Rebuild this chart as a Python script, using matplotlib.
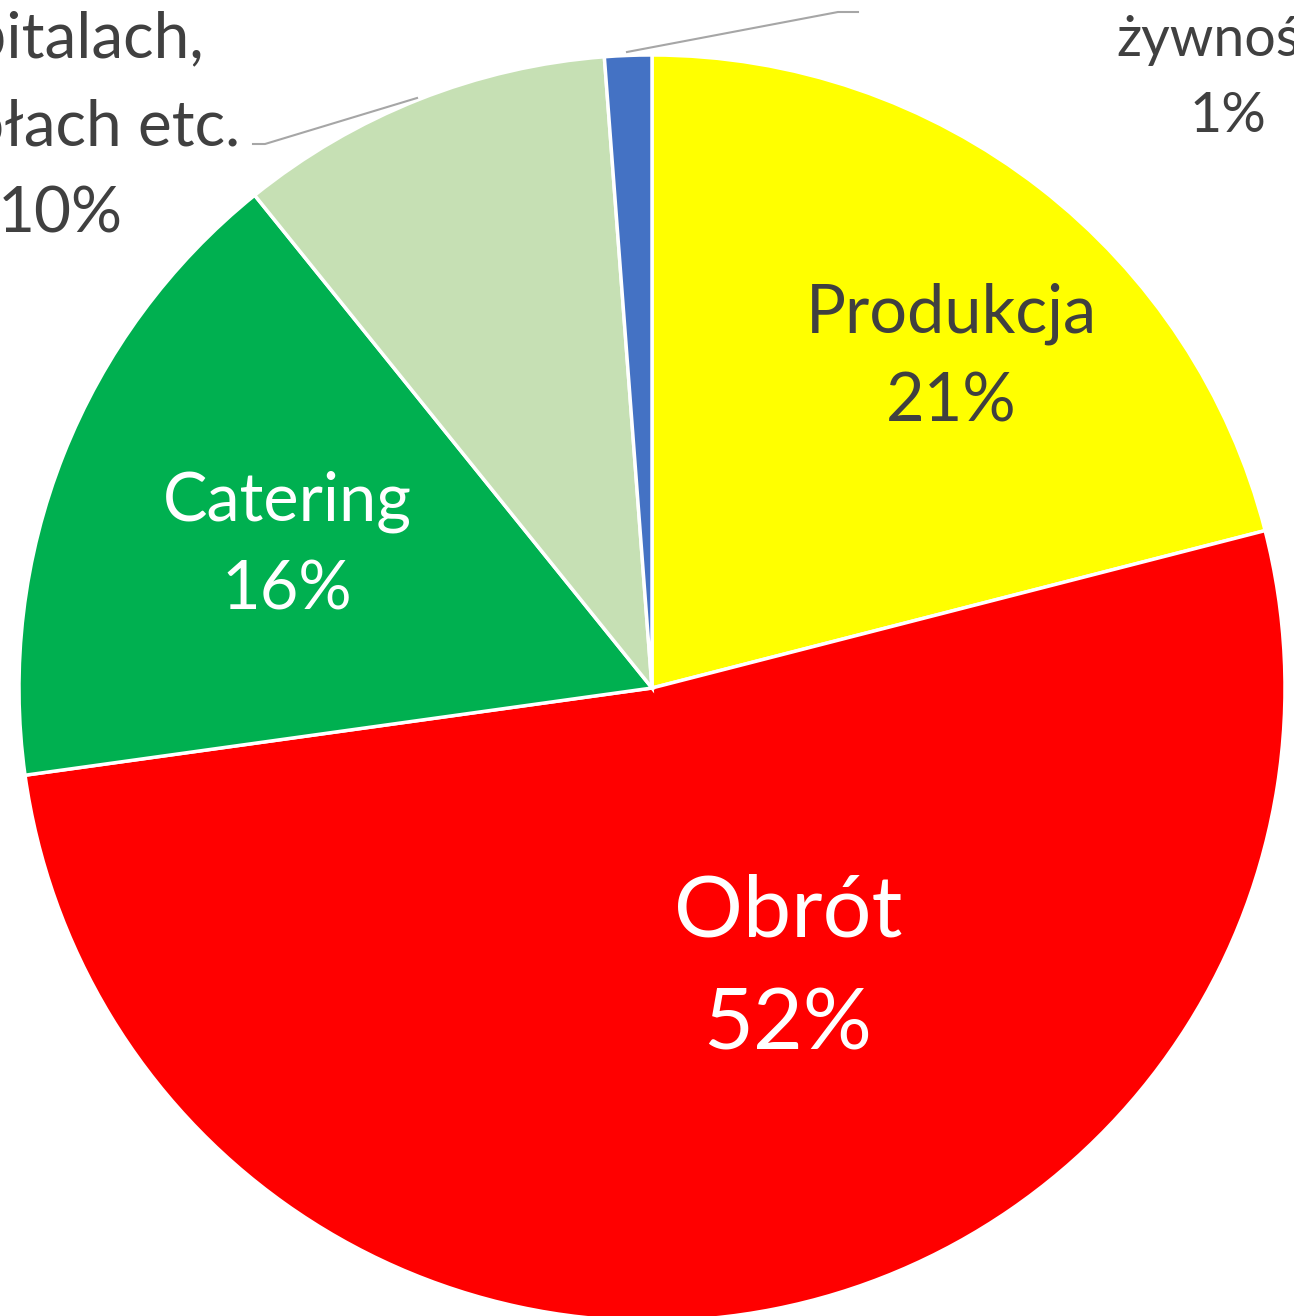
import matplotlib
matplotlib.use("Agg")
import matplotlib.pyplot as plt

# udział segmentów
categories = ["Produkcja", "Obrót", "Catering", "Żywienie w\nszpitalach,\nszkołach etc.", "Banki\nżywności"]
values = [21.0, 51.8, 16.4, 9.6, 1.2]
colors = ["#FFFF00", "#FF0000", "#00B050", "#C6E0B4", "#4472C4"]

W, H = 1294, 1316
plt.rcParams["font.family"] = ["Lato", "DejaVu Sans"]

fig = plt.figure(figsize=(W / 100, H / 100), dpi=100)
ax = fig.add_axes([0, 0, 1, 1])

cx, cy, r = 652, H - 688, 633
ax.pie(values, colors=colors, startangle=90, counterclock=False,
       center=(cx, cy), radius=r, frame=True,
       wedgeprops=dict(edgecolor="white", linewidth=2.5))
ax.set_xlim(0, W)
ax.set_ylim(0, H)
ax.set_aspect("equal")
ax.axis("off")

pct = [f"{round(v):d}%" for v in values]
dark = "#404040"

# etykiety wewnątrz
ax.text(951, H - 358, f"{categories[0]}\n{pct[0]}", ha="center", va="center",
        fontsize=48, color=dark, linespacing=1.52)
ax.text(788, H - 969, f"{categories[1]}\n{pct[1]}", ha="center", va="center",
        fontsize=62, color="white", linespacing=1.55)
ax.text(287, H - 546, f"{categories[2]}\n{pct[2]}", ha="center", va="center",
        fontsize=48, color="white", linespacing=1.52)

# etykiety zewnętrzne (przycięte krawędzią obrazu)
ax.text(60, H - 78, f"{categories[3]}\n{pct[3]}", ha="center", va="center",
        fontsize=46, color=dark, linespacing=1.62, clip_on=False)
ax.text(1228, H - 40, f"{categories[4]}\n{pct[4]}", ha="center", va="center",
        fontsize=40, color=dark, linespacing=1.62, clip_on=False)

# linie odniesienia
ax.plot([253, 265, 417], [H - 144, H - 144, H - 98], color="#A6A6A6", lw=1.5)
ax.plot([627, 838, 858], [H - 52, H - 12, H - 12], color="#A6A6A6", lw=1.5)

fig.savefig("out.png", dpi=100)
